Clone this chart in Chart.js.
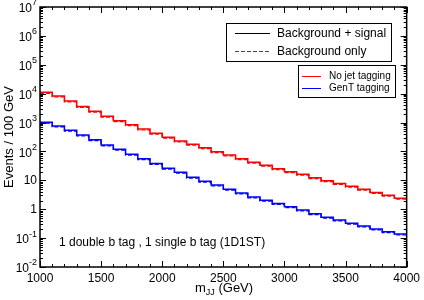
<!DOCTYPE html>
<html>
<head>
<meta charset="utf-8">
<script src="https://cdn.jsdelivr.net/npm/chart.js@4/dist/chart.umd.min.js"></script>
<style>
  html, body { margin: 0; padding: 0; background: #fff; }
  #wrap { width: 424px; height: 300px; }
</style>
</head>
<body>
<div id="wrap"><canvas id="mjjChart"></canvas></div>
<script>
// bin edges, 100 GeV bins (last edge closes the histogram)
const binEdges = [1000, 1100, 1200, 1300, 1400, 1500, 1600, 1700, 1800, 1900,
                  2000, 2100, 2200, 2300, 2400, 2500, 2600, 2700, 2800, 2900,
                  3000, 3100, 3200, 3300, 3400, 3500, 3600, 3700, 3800, 3900, 4000];

// No jet tagging (red)
const noTagSig = [11100, 8300, 5570, 3600, 2450, 1650, 1150, 836, 594, 425,
                  309, 230, 177, 135, 98, 75, 56, 42.5, 33.2, 25.3,
                  19.9, 16.3, 12.3, 9.7, 7.8, 6.2, 4.9, 3.8, 3.06, 2.41];
const noTagBkg = [10300, 7700, 5180, 3350, 2280, 1530, 1070, 778, 552, 395,
                  287, 214, 165, 126, 91, 70, 52, 39.5, 30.9, 23.5,
                  18.5, 15.2, 11.4, 9.0, 7.3, 5.8, 4.6, 3.5, 2.85, 2.24];

// GenT tagging (blue)
const gentSig = [1020, 760, 540, 371, 253, 167, 119, 79.6, 56, 38.3,
                 26.1, 19, 12.7, 9.3, 6.9, 4.9, 3.65, 2.65, 2.04, 1.58,
                 1.22, 0.94, 0.70, 0.526, 0.424, 0.326, 0.263, 0.207, 0.167, 0.139];
const gentBkg = [950, 707, 502, 345, 235, 155, 111, 74, 52, 35.6,
                 24.3, 17.7, 11.8, 8.6, 6.4, 4.6, 3.4, 2.46, 1.90, 1.47,
                 1.13, 0.87, 0.65, 0.49, 0.394, 0.303, 0.245, 0.193, 0.155, 0.129];

const yDecades = [-2, -1, 0, 1, 2, 3, 4, 5, 6, 7];
const xTickValues = [1000, 1500, 2000, 2500, 3000, 3500, 4000];

const seriesLabels = ['No jet tagging', 'GenT tagging'];
const styleLabels = ['Background + signal', 'Background only'];
const annotation = '1 double b tag , 1 single b tag (1D1ST)';

const FONT = '"Liberation Sans", Arial, Helvetica, sans-serif';

// histogram steps: one point per bin edge, last value repeated at the closing edge
function toSteps(values) {
    return binEdges.map((x, i) => ({ x: x, y: values[Math.min(i, values.length - 1)] }));
}

function stepSet(values, color, dashed) {
    return {
        data: toSteps(values),
        borderColor: color,
        borderWidth: dashed ? 1.2 : 1.5,
        borderDash: dashed ? [4, 2] : [],
        stepped: 'before',
        pointRadius: 0,
        fill: false
    };
}

// frame, inward ticks, log labels, titles and the two legend boxes
const decorPlugin = {
    id: 'decor',
    afterDatasetsDraw(chart) {
        const { ctx, chartArea: ca, scales } = chart;
        const xs = scales.x, ys = scales.y;
        ctx.save();
        ctx.strokeStyle = '#000';
        ctx.fillStyle = '#000';

        // ticks
        ctx.lineWidth = 1;
        ctx.beginPath();
        for (let v = 1000; v <= 4000; v += 100) {
            const px = Math.round(xs.getPixelForValue(v)) + 0.5;
            const len = (v % 500 === 0) ? 6 : 3;
            ctx.moveTo(px, ca.bottom); ctx.lineTo(px, ca.bottom - len);
            ctx.moveTo(px, ca.top); ctx.lineTo(px, ca.top + len);
        }
        yDecades.forEach(d => {
            const py = Math.round(ys.getPixelForValue(Math.pow(10, d))) + 0.5;
            ctx.moveTo(ca.left, py); ctx.lineTo(ca.left + 6, py);
            ctx.moveTo(ca.right, py); ctx.lineTo(ca.right - 6, py);
            if (d < 7) {
                for (let m = 2; m <= 9; m++) {
                    const pm = Math.round(ys.getPixelForValue(m * Math.pow(10, d))) + 0.5;
                    ctx.moveTo(ca.left, pm); ctx.lineTo(ca.left + 3, pm);
                    ctx.moveTo(ca.right, pm); ctx.lineTo(ca.right - 3, pm);
                }
            }
        });
        ctx.stroke();

        // frame
        ctx.lineWidth = 1.5;
        ctx.strokeRect(ca.left, ca.top, ca.right - ca.left, ca.bottom - ca.top);

        // y tick labels 10^n
        ctx.textBaseline = 'middle';
        yDecades.forEach(d => {
            const py = ys.getPixelForValue(Math.pow(10, d));
            const right = ca.left - 3;
            if (d === 0 || d === 1) {
                ctx.font = '12px ' + FONT;
                ctx.textAlign = 'right';
                ctx.fillText(d === 0 ? '1' : '10', right, py);
            } else {
                const exp = String(d);
                ctx.font = '9px ' + FONT;
                const ew = ctx.measureText(exp).width;
                ctx.textAlign = 'right';
                ctx.fillText(exp, right, py - 4);
                ctx.font = '12px ' + FONT;
                ctx.fillText('10', right - ew, py + 2);
            }
        });

        // y title
        ctx.save();
        ctx.translate(9, (ca.top + ca.bottom) / 2);
        ctx.rotate(-Math.PI / 2);
        ctx.font = '13px ' + FONT;
        ctx.textAlign = 'center';
        ctx.textBaseline = 'middle';
        ctx.fillText('Events / 100 GeV', 0, 0);
        ctx.restore();

        // x title m_JJ (GeV)
        ctx.textAlign = 'left';
        ctx.textBaseline = 'alphabetic';
        ctx.font = '13px ' + FONT;
        let tx = 195;
        const base = 292;
        ctx.fillText('m', tx, base);
        tx += ctx.measureText('m').width;
        ctx.font = '9px ' + FONT;
        ctx.fillText('JJ', tx, base + 3);
        tx += ctx.measureText('JJ').width;
        ctx.font = '13px ' + FONT;
        ctx.fillText(' (GeV)', tx, base);

        // annotation
        ctx.font = '12px ' + FONT;
        ctx.textBaseline = 'middle';
        ctx.fillText(annotation, 59, 243);

        // legend box 1: line styles
        ctx.lineWidth = 1;
        ctx.strokeRect(226.5, 23.5, 165, 38);
        ctx.beginPath();
        ctx.moveTo(235, 33.5); ctx.lineTo(270, 33.5);
        ctx.stroke();
        ctx.setLineDash([4, 2]);
        ctx.strokeStyle = '#444';
        ctx.beginPath();
        ctx.moveTo(235, 51.5); ctx.lineTo(270, 51.5);
        ctx.stroke();
        ctx.setLineDash([]);
        ctx.strokeStyle = '#000';
        ctx.font = '12px ' + FONT;
        ctx.fillText(styleLabels[0], 277, 33.5);
        ctx.fillText(styleLabels[1], 277, 51.5);

        // legend box 2: series colours
        ctx.strokeRect(298.5, 65.5, 97, 32);
        ctx.beginPath();
        ctx.strokeStyle = '#ff0000';
        ctx.moveTo(302, 76.5); ctx.lineTo(321, 76.5);
        ctx.stroke();
        ctx.beginPath();
        ctx.strokeStyle = '#0000ff';
        ctx.moveTo(302, 88.5); ctx.lineTo(321, 88.5);
        ctx.stroke();
        ctx.font = '10px ' + FONT;
        ctx.fillText(seriesLabels[0], 329, 76);
        ctx.fillText(seriesLabels[1], 329, 88);

        ctx.restore();
    }
};

const chart = new Chart(document.getElementById('mjjChart'), {
    type: 'line',
    data: {
        datasets: [
            stepSet(noTagBkg, '#ff0000', true),
            stepSet(gentBkg, '#0000ff', true),
            stepSet(noTagSig, '#ff0000', false),
            stepSet(gentSig, '#0000ff', false)
        ]
    },
    options: {
        responsive: true,
        maintainAspectRatio: false,
        animation: false,
        devicePixelRatio: 1,
        layout: { padding: { top: 7, right: 15, left: 0, bottom: 0 } },
        plugins: {
            legend: { display: false },
            tooltip: { enabled: false }
        },
        scales: {
            x: {
                type: 'linear',
                min: 1000,
                max: 4000,
                grid: { display: false, drawTicks: false },
                border: { display: false },
                afterBuildTicks: function(scale) {
                    scale.ticks = xTickValues.map(v => ({ value: v }));
                },
                afterFit: function(scale) { scale.height = 33; },
                ticks: {
                    autoSkip: false,
                    maxRotation: 0,
                    padding: 4,
                    color: '#000',
                    font: { family: FONT, size: 12 },
                    callback: function(value) { return String(value); }
                }
            },
            y: {
                type: 'logarithmic',
                min: 0.01,
                max: 1e7,
                grid: { display: false, drawTicks: false },
                border: { display: false },
                afterFit: function(scale) { scale.width = 40; },
                ticks: { display: false }
            }
        }
    },
    plugins: [decorPlugin]
});
</script>
</body>
</html>
